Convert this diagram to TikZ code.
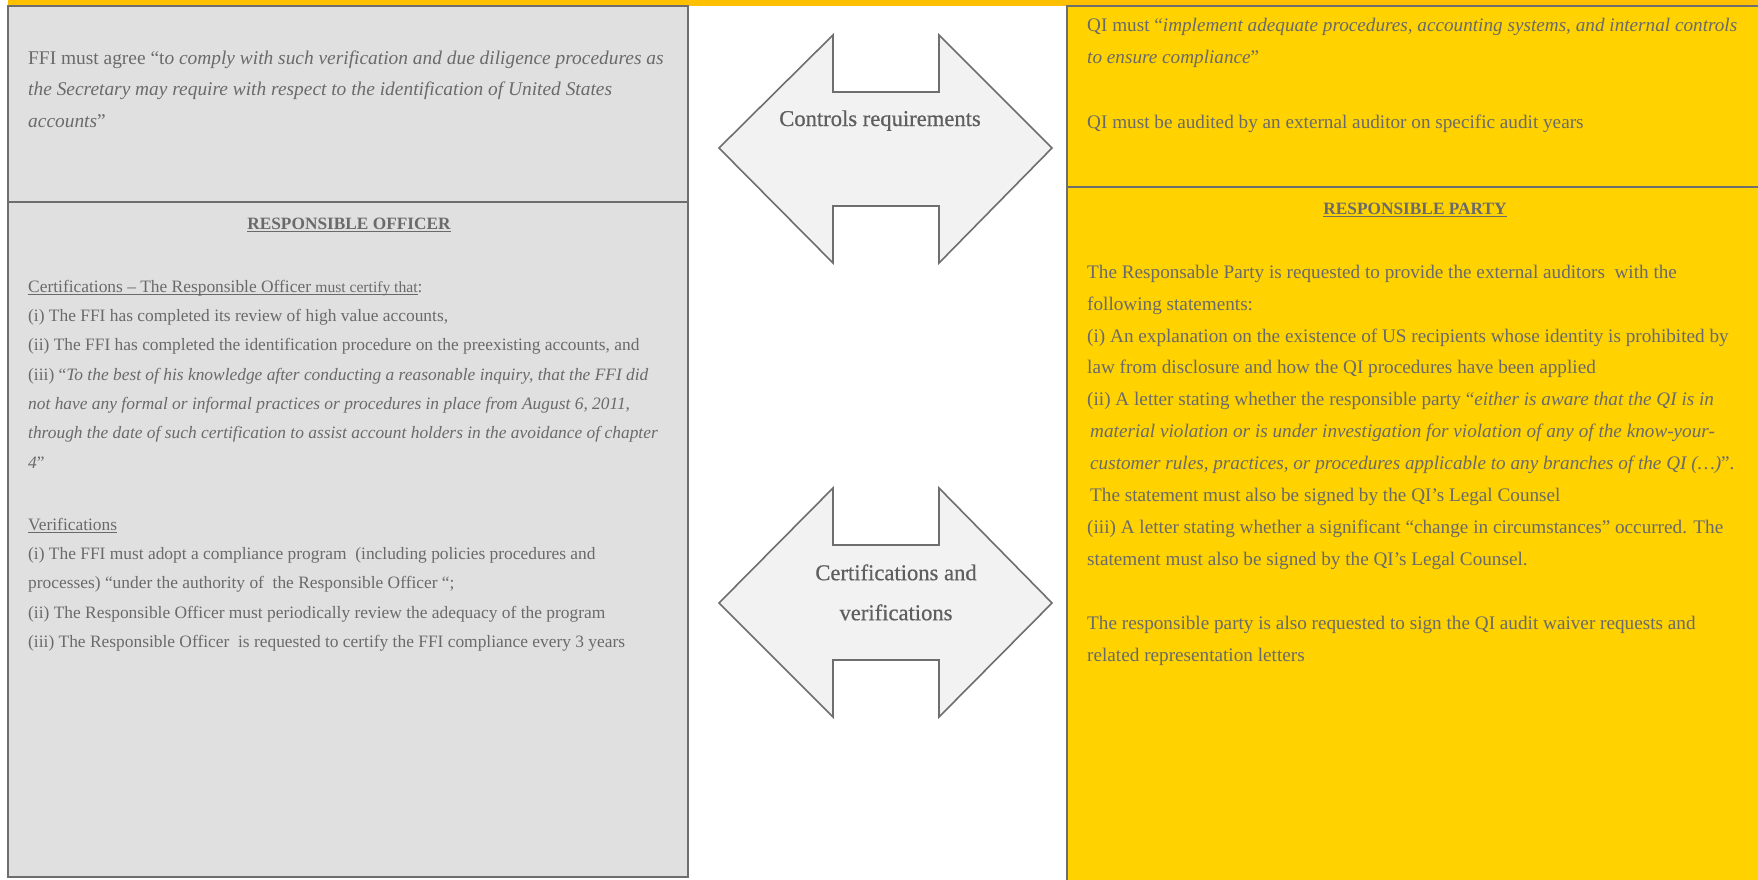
\documentclass[tikz,border=0pt]{standalone}
\usepackage{fontspec}
\setmainfont{Liberation Serif}
\newfontfamily\lblfont{Liberation Serif}[FakeBold=0.7]
\definecolor{txtgray}{HTML}{6A6A6A}
\definecolor{boxgray}{HTML}{E0E0E0}
\definecolor{edgegray}{HTML}{6E6E6E}
\definecolor{qiyellow}{HTML}{FFD200}
\definecolor{topbar}{HTML}{FFC000}
\definecolor{arrowfill}{HTML}{F2F2F2}
\newcommand{\headul}[1]{\setbox0\hbox{#1}\rlap{\rule[-3.4pt]{\wd0}{1.8pt}}\box0}
\newcommand{\thinul}[1]{\setbox0\hbox{#1}\rlap{\rule[-2.8pt]{\wd0}{1.2pt}}\box0}
\newcommand{\tstrut}[1]{\rule{0pt}{#1}}
\begin{document}
\begin{tikzpicture}[x=1pt,y=-1pt,
  boxedge/.style={draw=edgegray, line width=1.6pt},
  dblarrow/.style={draw=edgegray, line width=1.6pt, fill=arrowfill, line join=miter},
  txt/.style={anchor=north west, inner sep=0pt, align=left, text=txtgray},
  lefttop/.style={txt, font=\fontsize{19.4pt}{31.5pt}\selectfont},
  leftbody/.style={txt, font=\fontsize{17.4pt}{29.3pt}\selectfont},
  rightbody/.style={txt, font=\fontsize{19.2pt}{31.9pt}\selectfont},
  righttop/.style={txt, font=\fontsize{19.2pt}{32.3pt}\selectfont},
  heading/.style={anchor=base, inner sep=0pt, text=txtgray, font=\fontsize{17.3pt}{20pt}\selectfont\bfseries},
  arrowlbl/.style={inner sep=0pt, text=txtgray!90!black, align=center, font=\lblfont\fontsize{22.6pt}{40pt}\selectfont}
]
\useasboundingbox (0,0) rectangle (1758,879);

% top bar
\fill[topbar] (8,0) rectangle (1758,6);

% left panel
\draw[boxedge, fill=boxgray] (8,6) rectangle (688,877);
\draw[boxedge] (8,202) -- (688,202);

% right panel
\fill[qiyellow] (1067,6) rectangle (1760,881);
\draw[boxedge] (1067,881) -- (1067,6) -- (1760,6);
\draw[boxedge] (1067,187) -- (1760,187);

% double arrows
\draw[dblarrow] (719,148) -- (833,35) -- (833,92) -- (939,92) -- (939,35) -- (1052,148)
  -- (939,263) -- (939,206) -- (833,206) -- (833,263) -- cycle;
\draw[dblarrow] (719,603) -- (833,488) -- (833,545) -- (939,545) -- (939,488) -- (1052,603)
  -- (939,717) -- (939,660) -- (833,660) -- (833,717) -- cycle;

\node[arrowlbl, anchor=base] (ctrl) at (880,126) {Controls requirements};
\node[arrowlbl, anchor=north] (cert) at (896,555) {\tstrut{25pt}Certifications and\\verifications};

% left texts
\node[lefttop] (ffi) at (28,42) {\tstrut{22pt}FFI must agree “t\textit{o comply with such verification and due diligence procedures as}\\
\textit{the Secretary may require with respect to the identification of United States}\\
\textit{accounts}”};

\node[heading] (rohead) at (349,229) {\headul{RESPONSIBLE OFFICER}};

\node[leftbody] (certs) at (28,272) {\tstrut{20pt}\thinul{Certifications – The Responsible Officer {\fontsize{15.6pt}{29.3pt}\selectfont must certify that}}:\\
(i) The FFI has completed its review of high value accounts,\\
(ii) The FFI has completed the identification procedure on the preexisting accounts, and\\
(iii) “\textit{To the best of his knowledge after conducting a reasonable inquiry, that the FFI did}\\
\textit{not have any formal or informal practices or procedures in place from August 6, 2011,}\\
\textit{through the date of such certification to assist account holders in the avoidance of chapter}\\
\textit{4}”};

\node[leftbody] (verifs) at (28,510) {\tstrut{20pt}\thinul{Verifications}\\
(i) The FFI must adopt a compliance program~ (including policies procedures and\\
processes) “under the authority of~ the Responsible Officer “;\\
(ii) The Responsible Officer must periodically review the adequacy of the program\\
(iii) The Responsible Officer~ is requested to certify the FFI compliance every 3 years};

% right texts
\node[righttop] (qimust) at (1087,9) {\tstrut{22pt}QI must “\textit{implement adequate procedures, accounting systems, and internal controls}\\
\textit{to ensure compliance}”};

\node[righttop] (qiaudit) at (1087,106) {\tstrut{22pt}QI must be audited by an external auditor on specific audit years};

\node[heading] (rphead) at (1415,214) {\headul{RESPONSIBLE PARTY}};

\node[rightbody] (rpbody) at (1087,256) {\tstrut{22pt}The Responsable Party is requested to provide the external auditors~ with the\\
following statements:\\
(i) An explanation on the existence of US recipients whose identity is prohibited by\\
law from disclosure and how the QI procedures have been applied\\
(ii) A letter stating whether the responsible party “\textit{either is aware that the QI is in}\\
\hspace{3pt}\textit{material violation or is under investigation for violation of any of the know-your-}\\
\hspace{3pt}\textit{customer rules, practices, or procedures applicable to any branches of the QI (…)}”.\\
\hspace{3pt}The statement must also be signed by the QI’s Legal Counsel\\
(iii) A letter stating whether a significant “change in circumstances” occurred. The\\
statement must also be signed by the QI’s Legal Counsel.};

\node[rightbody] (rpwaiver) at (1087,607) {\tstrut{22pt}The responsible party is also requested to sign the QI audit waiver requests and\\
related representation letters};
\end{tikzpicture}
\end{document}
